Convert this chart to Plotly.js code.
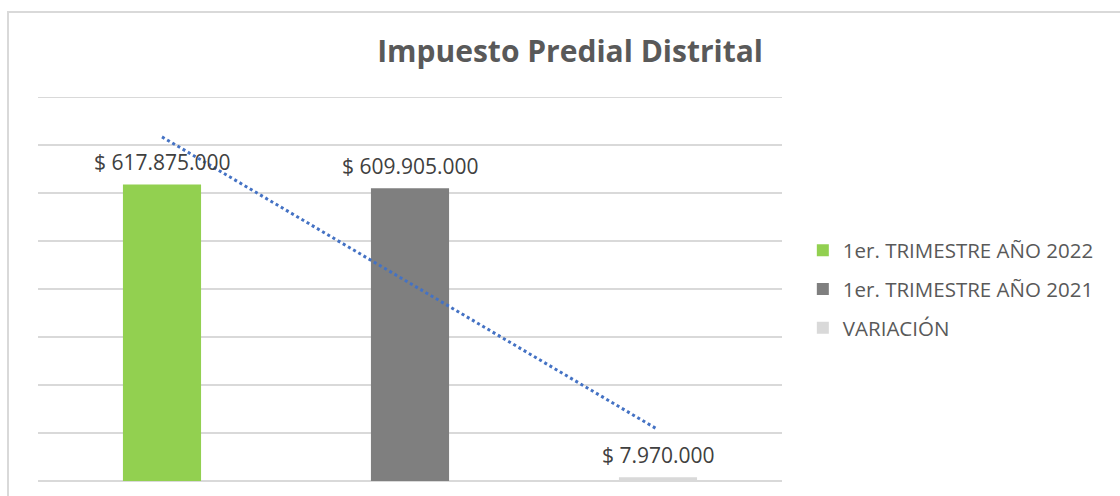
<!DOCTYPE html>
<html>
<head>
<meta charset="utf-8">
<script src="https://cdn.plot.ly/plotly-3.0.1.min.js"></script>
<style>
  html, body { margin: 0; padding: 0; background: #fff; }
  #wrap { position: relative; width: 1120px; height: 496px; overflow: hidden; }
  #chart { position: absolute; left: 0; top: 0; width: 1120px; height: 496px; }
  #frame { position: absolute; left: 7px; top: 11px; width: 1200px; height: 600px;
           border: 2px solid #d9d9d9; pointer-events: none; box-sizing: border-box; }
</style>
</head>
<body>
<div id="wrap">
  <div id="chart"></div>
  <div id="frame"></div>
</div>
<script>
// ---- data ----
const seriesNames = ["1er. TRIMESTRE AÑO 2022", "1er. TRIMESTRE AÑO 2021", "VARIACIÓN"];
const seriesValues = [617875000, 609905000, 7970000];
const seriesColors = ["#92d050", "#7f7f7f", "#d9d9d9"];
const positions = [1, 2, 3];
const axisMax = 800000000;

function fmt(v) {
  return "$ " + String(Math.round(v)).replace(/\B(?=(\d{3})+(?!\d))/g, ".");
}

const FONT = "'Open Sans', 'DejaVu Sans', sans-serif";
const traces = [];
seriesNames.forEach((name, i) => {
  traces.push({
    type: "bar",
    name: name,
    x: [positions[i]],
    y: [seriesValues[i]],
    width: 0.315,
    marker: { color: seriesColors[i] },
    legendgroup: "g" + i,
    hoverinfo: "skip"
  });
});

// linear trendline (least squares) over the three values
const n = seriesValues.length;
const mx = positions.reduce((a, b) => a + b, 0) / n;
const my = seriesValues.reduce((a, b) => a + b, 0) / n;
let sxy = 0, sxx = 0;
for (let i = 0; i < n; i++) { sxy += (positions[i] - mx) * (seriesValues[i] - my); sxx += (positions[i] - mx) ** 2; }
const slope = sxy / sxx, icpt = my - slope * mx;
const tx = [positions[0], positions[n - 1]];
traces.push({
  type: "scatter", mode: "lines",
  x: tx, y: tx.map(v => icpt + slope * v),
  line: { color: "#4472c4", width: 3, dash: "dot" },
  showlegend: false, hoverinfo: "skip"
});

const annotations = seriesValues.map((v, i) => ({
  x: positions[i], y: v, xref: "x", yref: "y",
  text: fmt(v), showarrow: false, yanchor: "bottom", yshift: 6,
  font: { family: FONT, size: 21, color: "#404040" }
}));

const layout = {
  width: 1120, height: 496,
  margin: { l: 38, r: 338, t: 97, b: 15, pad: 0 },
  paper_bgcolor: "rgba(0,0,0,0)", plot_bgcolor: "#fff",
  barmode: "overlay",
  title: {
    text: "<b>Impuesto Predial Distrital</b>",
    x: 0.509, xanchor: "center", xref: "container",
    y: 0.896, yanchor: "middle", yref: "container",
    font: { family: FONT, size: 30, color: "#595959" }
  },
  xaxis: {
    range: [0.5, 3.5], showgrid: false, zeroline: false,
    showticklabels: false, ticks: "", showline: false, fixedrange: true
  },
  yaxis: {
    range: [0, axisMax], dtick: 100000000, tick0: 0,
    showgrid: true, gridcolor: "#d9d9d9", gridwidth: 2,
    zeroline: true, zerolinecolor: "#d9d9d9", zerolinewidth: 2,
    showticklabels: false, ticks: "", showline: false, fixedrange: true
  },
  shapes: [{
    type: "line", xref: "paper", yref: "y", x0: 0, x1: 1, y0: axisMax, y1: axisMax,
    line: { color: "#d9d9d9", width: 2 }, layer: "below"
  }],
  showlegend: true,
  legend: {
    x: 1.028, xanchor: "left", y: 0.5, yanchor: "middle",
    font: { family: FONT, size: 20.5, color: "#595959" },
    traceorder: "grouped", tracegroupgap: 9,
    bgcolor: "rgba(0,0,0,0)"
  },
  annotations: annotations
};

Plotly.newPlot("chart", traces, layout, { displayModeBar: false, staticPlot: true });
</script>
</body>
</html>
